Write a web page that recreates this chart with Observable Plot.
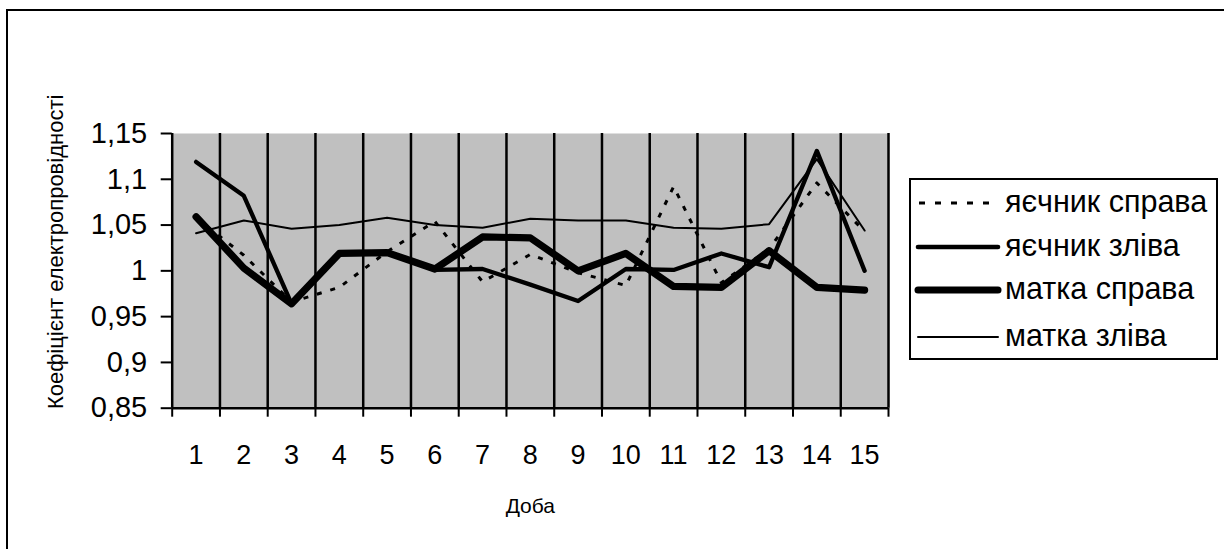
<!DOCTYPE html>
<html>
<head>
<meta charset="utf-8">
<script src="https://cdn.jsdelivr.net/npm/d3@7"></script>
<script src="https://cdn.jsdelivr.net/npm/@observablehq/plot@0.6"></script>
<style>
  html, body { margin: 0; padding: 0; background: #fff; }
  body { width: 1224px; height: 549px; overflow: hidden; position: relative;
         font-family: Arial, "Liberation Sans", sans-serif; color: #000; }
  #frame { position: absolute; left: 6px; top: 9px; width: 1400px; height: 800px;
           border: 2px solid #000; box-sizing: border-box; }
  #chart { position: absolute; left: 0; top: 0; }
  #legend { position: absolute; left: 909px; top: 178px; width: 309px; height: 182px;
            border: 2px solid #000; box-sizing: border-box; background: #fff; }
  #legend .row { position: absolute; left: 0; height: 40px; width: 300px; }
  #legend svg { position: absolute; left: 0; top: 0; }
  #legend span { position: absolute; left: 94px; top: 50%; transform: translateY(-54%);
                 font-size: 30.5px; white-space: nowrap; }
</style>
</head>
<body>
<div id="frame"></div>
<div id="chart"></div>
<div id="legend"></div>
<script>
// Days of observation
const days = [1, 2, 3, 4, 5, 6, 7, 8, 9, 10, 11, 12, 13, 14, 15];

// Electrical conductivity coefficient per series
const ovaryRight  = [1.058, 1.017, 0.966, 0.982, 1.021, 1.054, 0.988, 1.018, 0.998, 0.984, 1.092, 0.987, 1.024, 1.096, 1.043];
const ovaryLeft   = [1.119, 1.082, 0.964, 1.019, 1.020, 1.001, 1.002, 0.985, 0.967, 1.002, 1.001, 1.019, 1.004, 1.131, 1.000];
const uterusRight = [1.059, 1.003, 0.964, 1.019, 1.020, 1.002, 1.037, 1.036, 1.000, 1.019, 0.983, 0.982, 1.022, 0.982, 0.979];
const uterusLeft  = [1.041, 1.055, 1.046, 1.050, 1.058, 1.050, 1.047, 1.057, 1.055, 1.055, 1.047, 1.046, 1.051, 1.122, 1.044];

const seriesNames = ["яєчник справа", "яєчник зліва", "матка справа", "матка зліва"];
const seriesValues = [ovaryRight, ovaryLeft, uterusRight, uterusLeft];

const yTicks = [0.85, 0.9, 0.95, 1, 1.05, 1.1, 1.15];
const yTitle = "Коефіцієнт електропровідності";
const xTitle = "Доба";

// Line styles, in drawing order
const lineStyles = [
  {strokeWidth: 3,   dash: "5,9"},
  {strokeWidth: 4.3, dash: null},
  {strokeWidth: 7.2, dash: null},
  {strokeWidth: 2,   dash: null}
];

const W = 1224, H = 549;
const plotLeft = 171.7, plotRight = 888, plotTop = 133, plotBottom = 407.7;

// category boundaries for the vertical grid and the x ticks
const bounds = [days[0] - 0.5, ...days.map(d => d + 0.5)];
const commaFmt = d => String(d).replace(".", ",");

const lineMarks = seriesValues.map((vals, k) => {
  const rows = days.map((d, i) => ({day: d, value: vals[i], series: seriesNames[k]}));
  const s = lineStyles[k];
  return Plot.line(rows, {
    x: "day", y: "value", stroke: "#000",
    strokeWidth: s.strokeWidth,
    strokeDasharray: s.dash ?? undefined,
    strokeLinecap: s.dash ? "butt" : "round",
    strokeLinejoin: "round"
  });
});

const chart = Plot.plot({
  width: W, height: H,
  marginLeft: plotLeft, marginRight: W - plotRight, marginTop: plotTop, marginBottom: H - plotBottom,
  style: {fontFamily: 'Arial, "Liberation Sans", sans-serif', fontSize: "27px", color: "#000", background: "transparent"},
  x: {type: "linear", domain: [bounds[0], bounds[bounds.length - 1]]},
  y: {domain: [0.85, 1.15]},
  marks: [
    Plot.frame({fill: "#c0c0c0", stroke: null}),
    Plot.ruleX(bounds, {stroke: "#000", strokeWidth: 2.5}),
    Plot.ruleY([0.85], {stroke: "#000", strokeWidth: 2.5}),
    Plot.axisY(yTicks, {tickSize: 11, tickPadding: 14, tickFormat: commaFmt, strokeWidth: 2, label: null, fontSize: 29}),
    Plot.axisX(bounds, {tickSize: 9, tickFormat: () => "", strokeWidth: 2, label: null}),
    Plot.axisX(days, {tickSize: 0, tickPadding: 37, tickFormat: d => String(d), label: null, fontSize: 27}),
    ...lineMarks,
    Plot.text([yTitle], {text: d => d, frameAnchor: "left", textAnchor: "middle", rotate: -90, dx: -109, dy: -19, lineAnchor: "bottom", fontSize: 22}),
    Plot.text([xTitle], {text: d => d, frameAnchor: "bottom", textAnchor: "middle", dy: 105, lineAnchor: "bottom", fontSize: 21}),
  ]
});
document.getElementById("chart").appendChild(chart);

// Legend: one row per series with its line sample
const legend = document.getElementById("legend");
const rowCenters = [22.7, 67, 110, 156.7];
seriesNames.forEach((name, k) => {
  const row = document.createElement("div");
  row.className = "row";
  row.style.top = (rowCenters[k] - 20) + "px";
  const s = lineStyles[k];
  const sw = k === 1 ? 4.6 : k === 2 ? 7 : s.strokeWidth;
  const svg = d3.create("svg").attr("width", 96).attr("height", 40);
  svg.append("line")
    .attr("x1", s.dash ? 8 : 7).attr("x2", s.dash ? 86 : 87)
    .attr("y1", 20).attr("y2", 20)
    .attr("stroke", "#000").attr("stroke-width", sw)
    .attr("stroke-dasharray", s.dash ? "6,10" : null)
    .attr("stroke-linecap", s.dash ? "butt" : "round");
  row.appendChild(svg.node());
  const span = document.createElement("span");
  span.textContent = name;
  row.appendChild(span);
  legend.appendChild(row);
});
</script>
</body>
</html>
